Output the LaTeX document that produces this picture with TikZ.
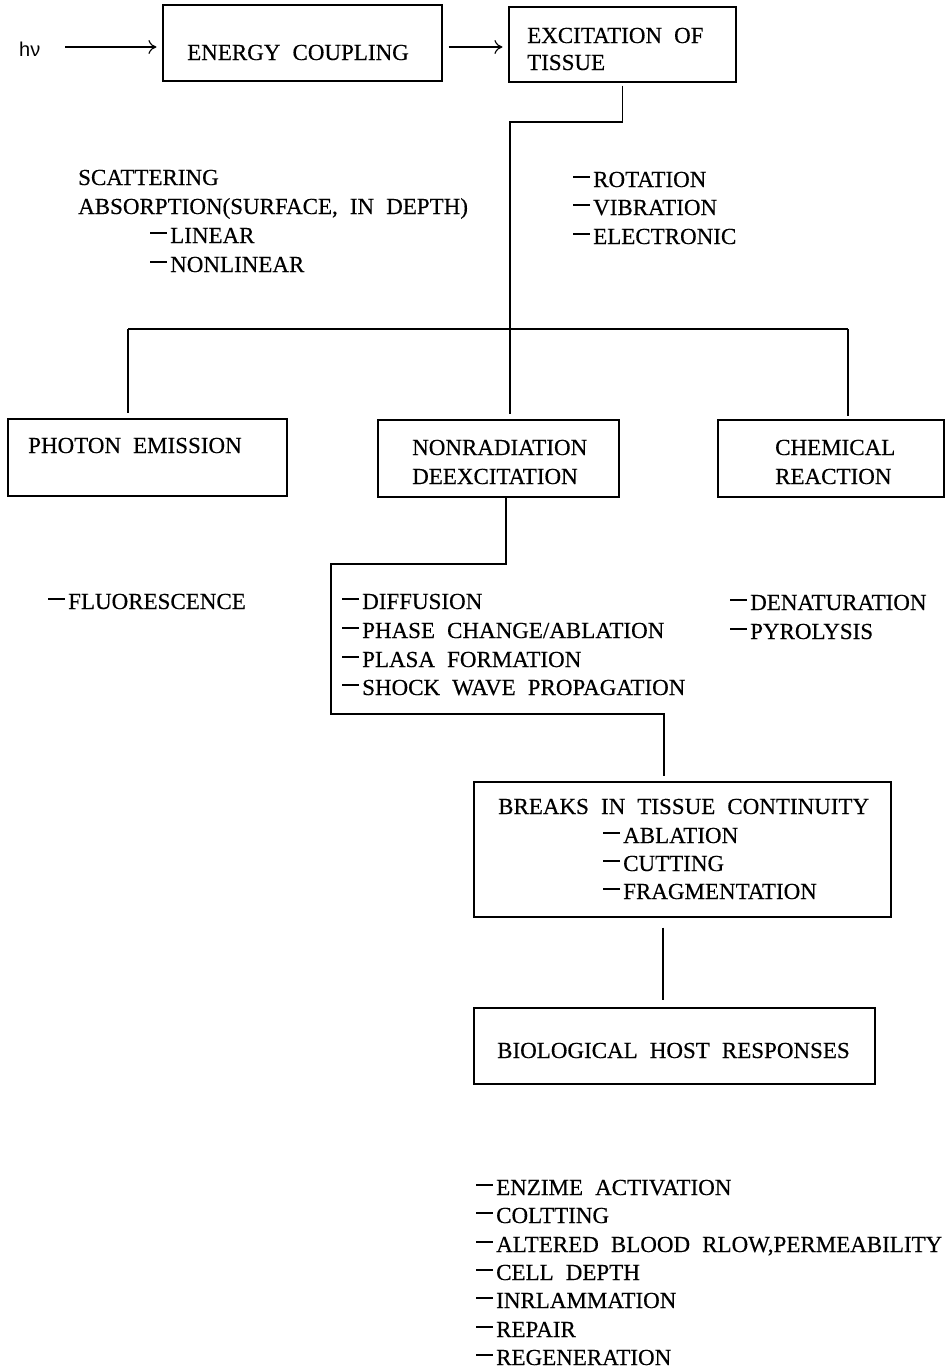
\documentclass[tikz,border=0pt]{standalone}
\usepackage{fontspec}
\setmainfont{Liberation Serif}[WordSpace=2.1, FakeBold=0.35]
\newfontfamily\hvfont{Liberation Sans}
\usetikzlibrary{arrows.meta}
\newcommand\dsh{\rule[9.5pt]{17pt}{1.3pt}\hspace{3pt}}
\begin{document}
\begin{tikzpicture}[x=1pt,y=-1pt,
  box/.style={draw, line width=1.1pt, inner sep=0pt},
  txt/.style={anchor=base west, inner sep=0pt, font=\fontsize{23}{27}\selectfont},
  ln/.style={line width=1.1pt},
  arr/.style={ln, -{Computer Modern Rightarrow[length=8pt,width=14pt]}}]
\useasboundingbox (0,0) rectangle (945,1369);
\fill[white] (0,0) rectangle (945,1369);

% boxes
\node[box, minimum width=279, minimum height=76] (box1) at (302.5,43) {};
\node[box, minimum width=227, minimum height=75] (box2) at (622.5,44.5) {};
\node[box, minimum width=279, minimum height=77] (pe) at (147.5,457.5) {};
\node[box, minimum width=241, minimum height=77] (nr) at (498.5,458.5) {};
\node[box, minimum width=226, minimum height=77] (ch) at (831,458.5) {};
\node[box, minimum width=417, minimum height=135] (br) at (682.5,849.5) {};
\node[box, minimum width=401, minimum height=76] (bio) at (674.5,1046) {};

% box texts
\node[anchor=base west, inner sep=0pt, font=\hvfont\fontsize{20}{22}\selectfont] (hv) at (19,56) {hν};
\node[txt] (t1) at (187,60) {ENERGY COUPLING};
\node[txt] (t2a) at (527,43) {EXCITATION OF};
\node[txt] (t2b) at (527,70) {TISSUE};
\node[txt] (t3) at (28,453) {PHOTON EMISSION};
\node[txt] (t4a) at (412,455) {NONRADIATION};
\node[txt] (t4b) at (412,484) {DEEXCITATION};
\node[txt] (t5a) at (775,455) {CHEMICAL};
\node[txt] (t5b) at (775,484) {REACTION};
\node[txt] (t6a) at (498,814) {BREAKS IN TISSUE CONTINUITY};
\node[txt] (t6b) at (603,843) {\dsh ABLATION};
\node[txt] (t6c) at (603,871) {\dsh CUTTING};
\node[txt] (t6d) at (603,899) {\dsh FRAGMENTATION};
\node[txt] (t7) at (497,1058) {BIOLOGICAL HOST RESPONSES};

% free lists
\node[txt] (s1) at (78,185) {SCATTERING};
\node[txt] (s2) at (78,214) {ABSORPTION(SURFACE, IN DEPTH)};
\node[txt] (s3) at (150,243) {\dsh LINEAR};
\node[txt] (s4) at (150,272) {\dsh NONLINEAR};

\node[txt] (r1) at (573,187) {\dsh ROTATION};
\node[txt] (r2) at (573,215) {\dsh VIBRATION};
\node[txt] (r3) at (573,244) {\dsh ELECTRONIC};

\node[txt] (f1) at (48,609) {\dsh FLUORESCENCE};

\node[txt] (d1) at (342,609) {\dsh DIFFUSION};
\node[txt] (d2) at (342,638) {\dsh PHASE CHANGE/ABLATION};
\node[txt] (d3) at (342,667) {\dsh PLASA FORMATION};
\node[txt] (d4) at (342,695) {\dsh SHOCK WAVE PROPAGATION};

\node[txt] (c1) at (730,610) {\dsh DENATURATION};
\node[txt] (c2) at (730,639) {\dsh PYROLYSIS};

\node[txt] (b1) at (476,1195) {\dsh ENZIME ACTIVATION};
\node[txt] (b2) at (476,1223) {\dsh COLTTING};
\node[txt] (b3) at (476,1252) {\dsh ALTERED BLOOD RLOW,PERMEABILITY};
\node[txt] (b4) at (476,1280) {\dsh CELL DEPTH};
\node[txt] (b5) at (476,1308) {\dsh INRLAMMATION};
\node[txt] (b6) at (476,1337) {\dsh REPAIR};
\node[txt] (b7) at (476,1365) {\dsh REGENERATION};

% connectors
\coordinate (a1) at (65,47);
\draw[arr, shorten >=6pt] (a1) -- (a1 -| box1.west);
\draw[arr, shorten <=6pt, shorten >=6pt] (a1 -| box1.east) -- (a1 -| box2.west);

\coordinate (j2) at (510,122);
\draw[ln, shorten <=3pt, shorten >=5pt] (box2.south) |- (j2) -- (j2 |- nr.north);

\coordinate (hl) at (128,329);
\coordinate (hr) at (848,329);
\draw[ln] (hl) -- (hr);
\draw[ln, shorten >=5pt] (hl) -- (hl |- pe.north);
\draw[ln, shorten >=3pt] (hr) -- (hr |- ch.north);

\coordinate (k1) at (506,564);
\coordinate (k2) at (331,564);
\coordinate (k3) at (331,714);
\coordinate (k4) at (664,714);
\draw[ln, shorten >=5pt] (nr.south -| k1) -- (k1) -- (k2) -- (k3) -- (k4) -- (k4 |- br.north);

\coordinate (m) at (663,960);
\draw[ln, shorten <=10pt, shorten >=7pt] (m |- br.south) -- (m |- bio.north);
\end{tikzpicture}
\end{document}
